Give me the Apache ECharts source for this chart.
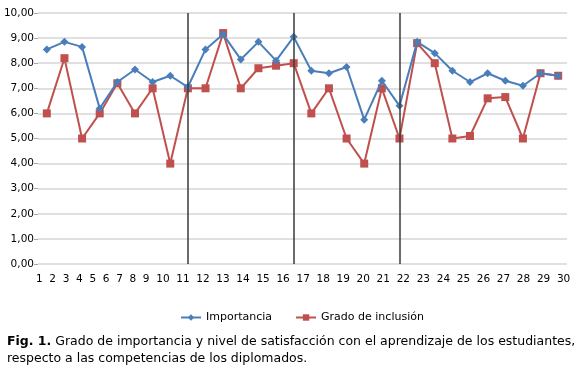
<!DOCTYPE html>
<html>
<head>
<meta charset="utf-8">
<script src="https://cdn.jsdelivr.net/npm/echarts@6/dist/echarts.min.js"></script>
<style>
html,body{margin:0;padding:0;background:#fff;}
#chart{width:580px;height:381px;}
</style>
</head>
<body>
<div id="chart"></div>
<script>
const categories = ['1','2','3','4','5','6','7','8','9','10','11','12','13','14','15','16','17','18','19','20','21','22','23','24','25','26','27','28','29','30'];
const xTickLabels = categories;
const yTickLabels = ['0,00','1,00','2,00','3,00','4,00','5,00','6,00','7,00','8,00','9,00','10,00'];
const importancia = [8.55, 8.85, 8.65, 6.2, 7.25, 7.75, 7.25, 7.5, 7.05, 8.55, 9.15, 8.15, 8.85, 8.1, 9.05, 7.7, 7.6, 7.85, 5.75, 7.3, 6.3, 8.85, 8.4, 7.7, 7.25, 7.6, 7.3, 7.1, 7.6, 7.5];
const inclusion = [6.0, 8.2, 5.0, 6.0, 7.2, 6.0, 7.0, 4.0, 7.0, 7.0, 9.2, 7.0, 7.8, 7.9, 8.0, 6.0, 7.0, 5.0, 4.0, 7.0, 5.0, 8.8, 8.0, 5.0, 5.1, 6.6, 6.65, 5.0, 7.6, 7.5];
const dividerCategories = ['9','15','21'];
const seriesNames = ['Importancia','Grado de inclusión'];
const captionBold = 'Fig. 1.';
const captionText = ' Grado de importancia y nivel de satisfacción con el aprendizaje de los estudiantes,\nrespecto a las competencias de los diplomados.';

const FONT = '"DejaVu Sans", Verdana, sans-serif';
const chart = echarts.init(document.getElementById('chart'), null, {renderer:'canvas'});
chart.setOption({
  animation:false,
  backgroundColor:'#fff',
  grid:{left:38, right:13, top:13, bottom:117, containLabel:false},
  legend:{
    data:seriesNames,
    left:175, top:307,
    itemWidth:20, itemHeight:8, itemGap:23,
    textStyle:{fontFamily:FONT, fontSize:11, color:'#000'}
  },
  xAxis:{
    type:'category', data:categories, boundaryGap:true,
    axisLine:{show:false}, axisTick:{show:false}, axisLabel:{show:false},
    splitLine:{show:false}
  },
  yAxis:{
    type:'value', min:0, max:10, interval:1,
    axisLine:{show:false},
    axisTick:{show:true, length:4, lineStyle:{color:'#a6a6a6', width:1}},
    axisLabel:{margin:4, fontFamily:FONT, fontSize:10.5, color:'#000',
      formatter:(v)=>yTickLabels[Math.round(v)]},
    splitLine:{lineStyle:{color:'#d6d6d6', width:1.5}}
  },
  series:[
    {
      name:seriesNames[0], type:'line', data:importancia,
      symbol:'diamond', symbolSize:8,
      itemStyle:{color:'#4a7ebb'}, lineStyle:{color:'#4a7ebb', width:2},
      z:3,
      markLine:{
        silent:true, symbol:'none', label:{show:false},
        lineStyle:{color:'#3a3a3a', width:1.5, type:'solid'},
        data:dividerCategories.map(c=>({xAxis:c}))
      }
    },
    {
      name:seriesNames[1], type:'line', data:inclusion,
      symbol:'rect', symbolSize:8,
      itemStyle:{color:'#c0504d'}, lineStyle:{color:'#c0504d', width:2},
      z:2
    }
  ],
  graphic:[
    {type:'text', left:36, top:274, silent:true,
      style:{text:xTickLabels.join('  '), font:'10.5px ' + FONT, fill:'#000'}},
    {type:'text', left:7, top:335, silent:true,
      style:{
        text:'{b|' + captionBold + '}{n|' + captionText.split('\n')[0] + '}\n{n|' + captionText.split('\n')[1] + '}',
        rich:{
          b:{fontFamily:FONT, fontSize:12.5, fontWeight:'bold', fill:'#000', lineHeight:17},
          n:{fontFamily:FONT, fontSize:12.5, fill:'#000', lineHeight:17}
        }
      }}
  ]
});
</script>
</body>
</html>
